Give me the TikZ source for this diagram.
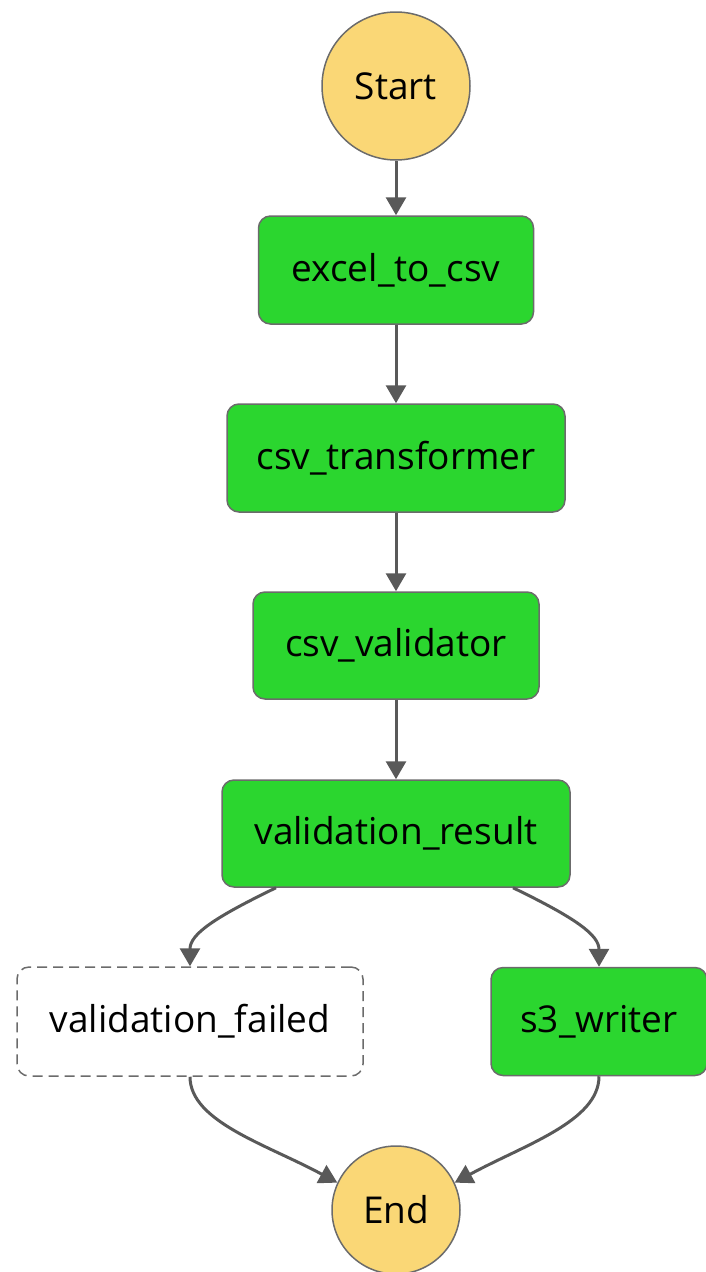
\documentclass[tikz,border=0pt]{standalone}
\usepackage{fontspec}
\setmainfont{Open Sans}
\usetikzlibrary{arrows.meta,calc}
\definecolor{stepgreen}{HTML}{2BD62F}
\definecolor{termyellow}{HTML}{FAD776}
\definecolor{edgegrey}{HTML}{6B6B6B}
\definecolor{arrowgrey}{HTML}{595959}
\begin{document}
\begin{tikzpicture}[x=1pt,y=-1pt,
  every node/.style={font=\fontsize{37}{42}\selectfont, text=black},
  term/.style={circle, draw=edgegrey, line width=1.5pt, fill=termyellow, inner sep=0pt},
  task/.style={rectangle, rounded corners=12pt, draw=edgegrey, line width=1.5pt, fill=stepgreen, inner sep=0pt},
  failbox/.style={rectangle, rounded corners=12pt, draw=edgegrey, line width=1.5pt, dash pattern=on 10pt off 6pt, fill=white, inner sep=0pt},
  conn/.style={draw=arrowgrey, line width=3pt, -{Triangle[width=20pt,length=18pt]}}
]
\useasboundingbox (0,0) rectangle (705,1272);
\node[term, minimum size=148pt] (start) at (396,86) {Start};
\node[task, minimum width=275pt, minimum height=108pt] (excel) at (396,270) {excel\_to\_csv};
\node[task, minimum width=338pt, minimum height=108pt] (trans) at (396,458) {csv\_transformer};
\node[task, minimum width=286pt, minimum height=107pt] (valid) at (396,645.5) {csv\_validator};
\node[task, minimum width=348pt, minimum height=107pt] (vres) at (396,833.5) {validation\_result};
\node[failbox, minimum width=346pt, minimum height=109pt] (vfail) at (190,1021.5) {validation\_failed};
\node[task, minimum width=216pt, minimum height=108pt] (s3) at (599,1021.5) {s3\_writer};
\node[term, minimum size=128pt] (end) at (396,1210) {End};

\draw[conn] (start) -- (excel);
\draw[conn] (excel) -- (trans);
\draw[conn] (trans) -- (valid);
\draw[conn] (valid) -- (vres);
\draw[conn] ([xshift=-120pt]vres.south) .. controls +(-62,30) and +(0,-32) .. (vfail.north);
\draw[conn] ([xshift=117pt]vres.south) .. controls +(62,30) and +(0,-32) .. (s3.north);
\draw[conn] (vfail.south) .. controls +(0,45) and +(-70,-38) .. (end.155);
\draw[conn] (s3.south) .. controls +(0,45) and +(70,-38) .. (end.25);
\end{tikzpicture}
\end{document}
